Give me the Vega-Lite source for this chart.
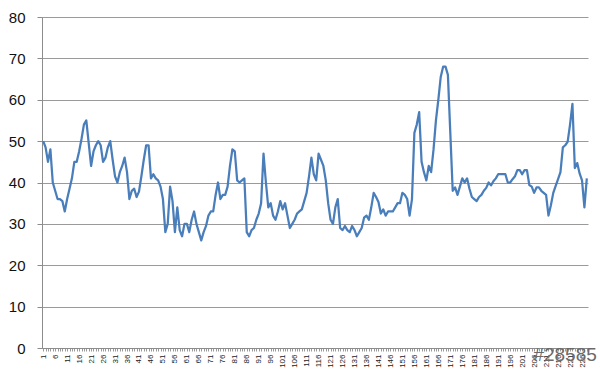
{
  "$schema": "https://vega.github.io/schema/vega-lite/v6.json",
  "width": 546,
  "height": 331,
  "autosize": {"type": "none"},
  "padding": {"left": 42, "top": 17, "right": 12, "bottom": 29},
  "background": "white",
  "title": {"text": "#28585", "orient": "bottom", "anchor": "end", "fontSize": 19, "fontWeight": "normal", "font": "Liberation Sans", "color": "#6a6a6a", "offset": -21, "dx": 6},
  "data": {"values": [
    {"day":1,"value":50},{"day":2,"value":48.5},{"day":3,"value":45},{"day":4,"value":48},{"day":5,"value":40},
    {"day":6,"value":38},{"day":7,"value":36},{"day":8,"value":36},{"day":9,"value":35.5},{"day":10,"value":33},
    {"day":11,"value":36},{"day":12,"value":38.5},{"day":13,"value":41},{"day":14,"value":45},{"day":15,"value":45},
    {"day":16,"value":47.5},{"day":17,"value":50.5},{"day":18,"value":54},{"day":19,"value":55},{"day":20,"value":49.5},
    {"day":21,"value":44},{"day":22,"value":47.5},{"day":23,"value":49},{"day":24,"value":50},{"day":25,"value":49},
    {"day":26,"value":45},{"day":27,"value":46},{"day":28,"value":48.5},{"day":29,"value":50},{"day":30,"value":45.5},
    {"day":31,"value":41.5},{"day":32,"value":40},{"day":33,"value":42.5},{"day":34,"value":44},{"day":35,"value":46},
    {"day":36,"value":42.5},{"day":37,"value":36},{"day":38,"value":38},{"day":39,"value":38.5},{"day":40,"value":36.5},
    {"day":41,"value":37.8},{"day":42,"value":41.5},{"day":43,"value":45.5},{"day":44,"value":49},{"day":45,"value":49},
    {"day":46,"value":41},{"day":47,"value":42},{"day":48,"value":41},{"day":49,"value":40.5},{"day":50,"value":39},
    {"day":51,"value":36},{"day":52,"value":28},{"day":53,"value":30},{"day":54,"value":39},{"day":55,"value":35.5},
    {"day":56,"value":28},{"day":57,"value":34},{"day":58,"value":28.5},{"day":59,"value":27},{"day":60,"value":30},
    {"day":61,"value":30},{"day":62,"value":28},{"day":63,"value":31},{"day":64,"value":33},{"day":65,"value":30},
    {"day":66,"value":28},{"day":67,"value":26},{"day":68,"value":28},{"day":69,"value":29.5},{"day":70,"value":32},
    {"day":71,"value":33},{"day":72,"value":33},{"day":73,"value":37},{"day":74,"value":40},{"day":75,"value":36},
    {"day":76,"value":37},{"day":77,"value":37},{"day":78,"value":39},{"day":79,"value":44},{"day":80,"value":48},
    {"day":81,"value":47.5},{"day":82,"value":40.5},{"day":83,"value":40},{"day":84,"value":40.5},{"day":85,"value":41},
    {"day":86,"value":28},{"day":87,"value":27},{"day":88,"value":28.5},{"day":89,"value":29},{"day":90,"value":31},
    {"day":91,"value":32.5},{"day":92,"value":35},{"day":93,"value":47},{"day":94,"value":40},{"day":95,"value":34},
    {"day":96,"value":35},{"day":97,"value":32},{"day":98,"value":31},{"day":99,"value":33},{"day":100,"value":35.5},
    {"day":101,"value":33.5},{"day":102,"value":35},{"day":103,"value":32},{"day":104,"value":29},{"day":105,"value":30},
    {"day":106,"value":31},{"day":107,"value":32.5},{"day":108,"value":33},{"day":109,"value":33.5},{"day":110,"value":35.5},
    {"day":111,"value":37.5},{"day":112,"value":41.5},{"day":113,"value":46},{"day":114,"value":42},{"day":115,"value":40.5},
    {"day":116,"value":47},{"day":117,"value":45.5},{"day":118,"value":44},{"day":119,"value":40.5},{"day":120,"value":35},
    {"day":121,"value":31},{"day":122,"value":30},{"day":123,"value":34},{"day":124,"value":36},{"day":125,"value":29},
    {"day":126,"value":28.5},{"day":127,"value":29.5},{"day":128,"value":28.5},{"day":129,"value":28},{"day":130,"value":29.5},
    {"day":131,"value":28.5},{"day":132,"value":27},{"day":133,"value":28},{"day":134,"value":29},{"day":135,"value":31.5},
    {"day":136,"value":32},{"day":137,"value":31},{"day":138,"value":34},{"day":139,"value":37.5},{"day":140,"value":36.5},
    {"day":141,"value":35.3},{"day":142,"value":32.5},{"day":143,"value":33.5},{"day":144,"value":32},{"day":145,"value":33},
    {"day":146,"value":33},{"day":147,"value":33},{"day":148,"value":34},{"day":149,"value":35},{"day":150,"value":35},
    {"day":151,"value":37.5},{"day":152,"value":37},{"day":153,"value":36},{"day":154,"value":32},{"day":155,"value":36},
    {"day":156,"value":52},{"day":157,"value":54},{"day":158,"value":57},{"day":159,"value":45},{"day":160,"value":42.5},
    {"day":161,"value":40.5},{"day":162,"value":44},{"day":163,"value":42.5},{"day":164,"value":48},{"day":165,"value":55},
    {"day":166,"value":60},{"day":167,"value":65.5},{"day":168,"value":68},{"day":169,"value":68},{"day":170,"value":66},
    {"day":171,"value":52},{"day":172,"value":38},{"day":173,"value":38.8},{"day":174,"value":37},{"day":175,"value":39},
    {"day":176,"value":41},{"day":177,"value":40},{"day":178,"value":41},{"day":179,"value":38.5},{"day":180,"value":36.5},
    {"day":181,"value":36},{"day":182,"value":35.5},{"day":183,"value":36.5},{"day":184,"value":37},{"day":185,"value":38},
    {"day":186,"value":38.7},{"day":187,"value":40},{"day":188,"value":39.3},{"day":189,"value":40.3},{"day":190,"value":41},
    {"day":191,"value":42},{"day":192,"value":42},{"day":193,"value":42},{"day":194,"value":42},{"day":195,"value":40},
    {"day":196,"value":40},{"day":197,"value":40.8},{"day":198,"value":41.5},{"day":199,"value":43},{"day":200,"value":43},
    {"day":201,"value":42},{"day":202,"value":43},{"day":203,"value":43},{"day":204,"value":39.4},{"day":205,"value":39},
    {"day":206,"value":37.5},{"day":207,"value":38.8},{"day":208,"value":38.8},{"day":209,"value":38},{"day":210,"value":37.5},
    {"day":211,"value":37},{"day":212,"value":32},{"day":213,"value":34.5},{"day":214,"value":37.5},{"day":215,"value":39.2},
    {"day":216,"value":40.8},{"day":217,"value":42.5},{"day":218,"value":48.5},{"day":219,"value":49},{"day":220,"value":49.8},
    {"day":221,"value":54},{"day":222,"value":59},{"day":223,"value":43.5},{"day":224,"value":44.7},{"day":225,"value":42.2},
    {"day":226,"value":40.5},{"day":227,"value":34},{"day":228,"value":41}
  ]},
  "mark": {"type": "line", "color": "#4a7ebb", "strokeWidth": 2.25, "strokeJoin": "round"},
  "encoding": {
    "x": {
      "field": "day",
      "type": "ordinal",
      "scale": {"type": "point", "padding": 0.5},
      "axis": {
        "title": null,
        "labelAngle": 270,
        "labelFontSize": 8,
        "labelFont": "Liberation Sans",
        "labelColor": "#222",
        "labelPadding": 3,
        "labelOverlap": false,
        "labelExpr": "(datum.value - 1) % 5 === 0 ? datum.label : ''",
        "tickSize": 3,
        "tickColor": "#9a9a9a",
        "domainColor": "#8c8c8c",
        "grid": false
      }
    },
    "y": {
      "field": "value",
      "type": "quantitative",
      "scale": {"domain": [0, 80], "nice": false, "zero": true},
      "axis": {
        "title": null,
        "values": [0, 10, 20, 30, 40, 50, 60, 70, 80],
        "labelFontSize": 15,
        "labelFont": "Liberation Sans",
        "labelColor": "#111",
        "labelPadding": 12,
        "tickSize": 5,
        "tickColor": "#8c8c8c",
        "domainColor": "#8c8c8c",
        "gridColor": "#9a9a9a",
        "gridOpacity": 1,
        "grid": true
      }
    }
  },
  "config": {"view": {"stroke": null}}
}
